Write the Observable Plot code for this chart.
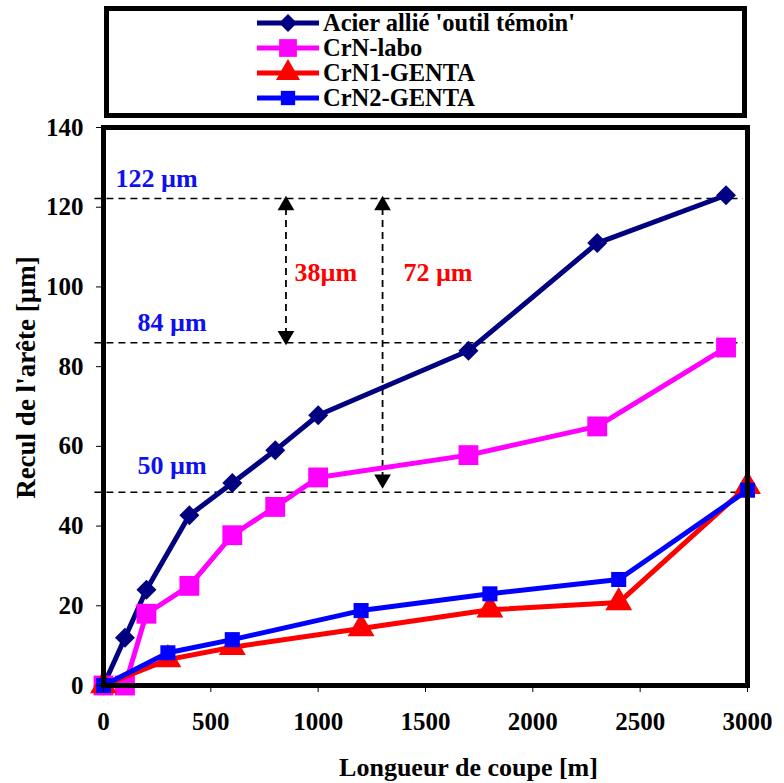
<!DOCTYPE html>
<html><head><meta charset="utf-8">
<script src="https://cdn.jsdelivr.net/npm/d3@7"></script>
<script src="https://cdn.jsdelivr.net/npm/@observablehq/plot@0.6"></script>
<style>
body{margin:0;background:#fff;}
#wrap{position:relative;width:784px;height:783px;font-family:"Liberation Serif","Times New Roman",serif;font-weight:bold;}
#legend{position:relative;width:784px;height:120px;}
#legbox{position:absolute;left:104px;top:6px;width:643px;height:112px;box-sizing:border-box;border:5px solid #000;}
.row{position:absolute;left:257px;height:22px;display:flex;align-items:center;white-space:nowrap;}
.row svg{margin-right:4px;overflow:visible;flex:none;}
.row span{display:inline-block;height:22px;line-height:22px;font-size:24.5px;overflow:visible;}
#chart svg{display:block;}
</style></head><body>
<div id="wrap"><div id="legend"><div id="legbox"></div></div><div id="chart"></div></div>
<script>
// ---- data ----
const seriesNames = ["Acier allié 'outil témoin'", "CrN-labo", "CrN1-GENTA", "CrN2-GENTA"];
const acierX = [0, 100, 200, 400, 600, 800, 1000, 1700, 2300, 2900];
const acierY = [0, 12, 24, 42.7, 50.8, 59, 67.8, 84, 111, 123];
const laboX = [0, 100, 200, 400, 600, 800, 1000, 1700, 2300, 2900];
const laboY = [0, 0, 18, 25, 37.7, 44.8, 52.2, 57.8, 65, 84.8];
const genta1X = [0, 300, 600, 1200, 1800, 2400, 3000];
const genta1Y = [0, 6.5, 9.6, 14.3, 19, 20.8, 50];
const genta2X = [0, 300, 600, 1200, 1800, 2400, 3000];
const genta2Y = [0, 8.2, 11.5, 18.8, 23, 26.6, 49];
const xTicks = [0, 500, 1000, 1500, 2000, 2500, 3000];
const yTicks = [0, 20, 40, 60, 80, 100, 120, 140];
const refLevels = [122.2, 86, 48.5];
const levelLabels = ["122 µm", "84 µm", "50 µm"];
const levelLabelX = [56, 158, 158];
const levelLabelY = [127.2, 91, 55.2];
const arrowX = [850, 1300];
const arrowTop = [122.2, 122.2];
const arrowBottom = [86, 50];
const arrowLabels = ["38µm", "72 µm"];
const arrowLabelX = [890, 1397];
const arrowLabelY = [103.6, 103.6];
const xLabel = "Longueur de coupe [m]";
const yLabel = "Recul de l'arête [µm]";

const colors = ["#000080", "#ff00ff", "#ff0000", "#0000ff"];
const symbols = ["diamond2", "square", "triangle", "square"];
const radii = [9, 11.2, 10, 8.5];
const d3Symbols = {diamond2: d3.symbolDiamond2, square: d3.symbolSquare, triangle: d3.symbolTriangle};

const seriesData = [[acierX, acierY], [laboX, laboY], [genta1X, genta1Y], [genta2X, genta2Y]]
  .map(([xs, ys], k) => xs.map((x, i) => ({series: seriesNames[k], x, y: ys[i]})));

const levels = refLevels.map((v, i) => ({v, label: levelLabels[i], lx: levelLabelX[i], ly: levelLabelY[i]}));
const arrows = arrowX.map((x, i) => ({x, y1: arrowTop[i], y2: arrowBottom[i], label: arrowLabels[i], lx: arrowLabelX[i], ly: arrowLabelY[i]}));

const font = "'Liberation Serif', 'Times New Roman', serif";
const marks = [
  Plot.ruleY(levels, {y: "v", x1: -40, x2: 2980, stroke: "#000", strokeWidth: 1.6, strokeDasharray: "7,5"}),
  Plot.text(levels, {x: "lx", y: "ly", text: "label", textAnchor: "start", fill: "#1010ee", fontSize: 26, fontWeight: "bold"}),
  Plot.ruleX(arrows, {x: "x", y1: "y1", y2: "y2", stroke: "#000", strokeWidth: 1.8, strokeDasharray: "7,5", insetTop: 10, insetBottom: 10}),
  Plot.dot(arrows, {x: "x", y: "y1", symbol: "triangle", r: 6.2, fill: "#000", dy: 7}),
  Plot.dot(arrows, {x: "x", y: "y2", symbol: "triangle", r: 6.2, fill: "#000", rotate: 180, dy: -7}),
  Plot.text(arrows, {x: "lx", y: "ly", text: "label", textAnchor: "start", fill: "#ff0000", fontSize: 26, fontWeight: "bold"})
];
seriesData.forEach((d, k) => {
  marks.push(Plot.line(d, {x: "x", y: "y", stroke: colors[k], strokeWidth: 5}));
  marks.push(Plot.dot(d, {x: "x", y: "y", symbol: symbols[k], fill: colors[k], r: radii[k]}));
});
marks.push(
  Plot.frame({stroke: "#000", strokeWidth: 5}),
  Plot.axisY({ticks: yTicks, tickSize: 7, tickPadding: 13, fontSize: 25, fontWeight: "bold", tickFormat: d => String(d), label: null}),
  Plot.axisX({ticks: xTicks, tickSize: 7, tickPadding: 20, fontSize: 25, fontWeight: "bold", tickFormat: d => String(d), label: null}),
  Plot.text([xLabel], {frameAnchor: "bottom", textAnchor: "middle", lineAnchor: "middle", dx: 43, dy: 82, fontSize: 26, fontWeight: "bold"}),
  Plot.text([yLabel], {frameAnchor: "left", textAnchor: "middle", lineAnchor: "middle", rotate: -90, dx: -77, dy: -29, fontSize: 27, fontWeight: "bold"})
);

const chart = Plot.plot({
  width: 784,
  height: 663,
  marginTop: 7,
  marginBottom: 98,
  marginLeft: 103,
  marginRight: 37,
  x: {domain: [0, 3000]},
  y: {domain: [0, 140]},
  style: {fontFamily: font, fontWeight: "bold", background: "#fff", color: "#000", overflow: "visible"},
  marks
});
document.getElementById("chart").appendChild(chart);

// ---- legend ----
const legend = document.getElementById("legend");
const rowCenters = [22.5, 47.5, 72.5, 97.5];
seriesNames.forEach((name, k) => {
  const row = document.createElement("div");
  row.className = "row";
  row.style.top = (rowCenters[k] - 11) + "px";
  const svg = d3.create("svg").attr("width", 62).attr("height", 22);
  svg.append("line").attr("x1", 0).attr("x2", 62).attr("y1", 11).attr("y2", 11)
    .attr("stroke", colors[k]).attr("stroke-width", 5);
  svg.append("path").attr("transform", "translate(31,11)")
    .attr("d", d3.symbol(d3Symbols[symbols[k]], Math.PI * radii[k] * radii[k] * (k === 3 ? 0.9 : 0.8))())
    .attr("fill", colors[k]);
  row.appendChild(svg.node());
  const span = document.createElement("span");
  span.textContent = name;
  row.appendChild(span);
  legend.appendChild(row);
});
</script>
</body></html>
